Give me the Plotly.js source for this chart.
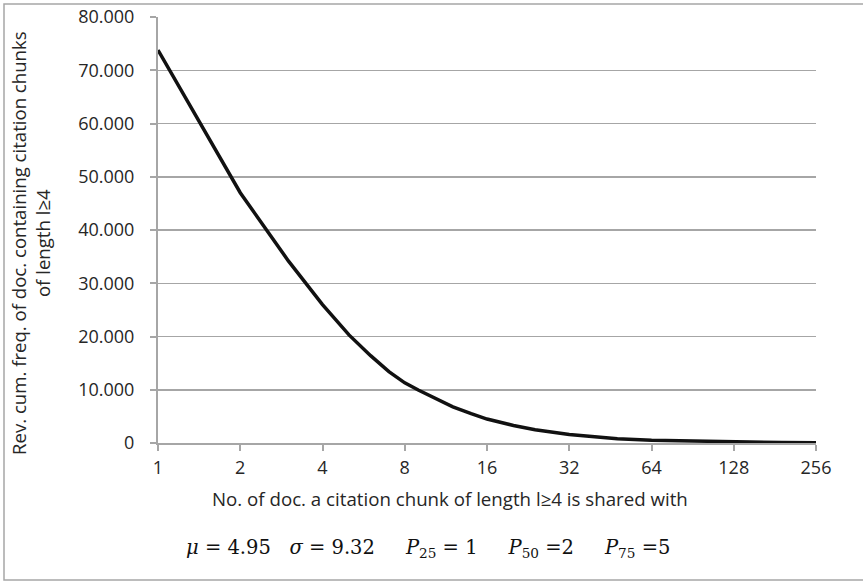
<!DOCTYPE html>
<html>
<head>
<meta charset="utf-8">
<script src="https://cdn.plot.ly/plotly-3.0.1.min.js"></script>
<style>html,body{margin:0;padding:0;background:#fff;}#chart{width:863px;height:581px;}</style>
</head>
<body>
<div id="chart"></div>
<script>
// Number of documents a citation chunk is shared with
const sharedWith = [1, 2, 3, 4, 5, 6, 7, 8, 9, 10, 11, 12, 14, 16, 20, 24, 32, 40, 48, 64, 96, 128, 192, 256];
// Reverse cumulative frequency of documents
const revCumFreq = [73800, 47000, 34200, 26000, 20300, 16400, 13400, 11300, 9900, 8700, 7700, 6800, 5500, 4500, 3300, 2500, 1600, 1100, 800, 500, 300, 200, 100, 50];
const xTicks = [1, 2, 4, 8, 16, 32, 64, 128, 256];
const yTicks = [0, 10000, 20000, 30000, 40000, 50000, 60000, 70000, 80000];

const W = 863, H = 581, L = 158, R = 816, T = 17, B = 443;
const px = x => (x - L) / (R - L);
const py = y => (B - y) / (B - T);

const axisColor = '#a6a6a6';
const font = 'Open Sans, sans-serif';

const trace = {
  x: sharedWith, y: revCumFreq, type: 'scatter', mode: 'lines',
  line: {color: '#111111', width: 3.5, shape: 'linear'},
  hoverinfo: 'x+y'
};

const layout = {
  width: W, height: H,
  margin: {l: L, r: W - R, t: T, b: H - B, pad: 0},
  paper_bgcolor: '#ffffff', plot_bgcolor: '#ffffff',
  separators: ',.',
  showlegend: false,
  font: {family: font, size: 18, color: '#262626'},
  xaxis: {
    type: 'log', range: [0, Math.log10(256)],
    tickmode: 'array', tickvals: xTicks, ticktext: xTicks.map(String),
    showgrid: false, zeroline: false,
    showline: true, linecolor: axisColor, linewidth: 2,
    ticks: 'outside', ticklen: 6, tickwidth: 2, tickcolor: axisColor,
    tickfont: {family: font, size: 18, color: '#262626'},
    ticklabelstandoff: 1
  },
  yaxis: {
    range: [0, 80000],
    tickmode: 'array', tickvals: yTicks,
    tickformat: ',d',
    showgrid: true, gridcolor: axisColor, gridwidth: 1.5,
    zeroline: false,
    showline: true, linecolor: axisColor, linewidth: 2,
    ticks: 'outside', ticklen: 6, tickwidth: 2, tickcolor: axisColor,
    tickfont: {family: font, size: 18, color: '#262626'},
    ticklabelstandoff: 12
  },
  annotations: [
    {
      text: 'No. of doc. a citation chunk of length l≥4 is shared with',
      xref: 'paper', yref: 'paper', x: px(450), y: py(498),
      xanchor: 'center', yanchor: 'middle', showarrow: false,
      font: {family: font, size: 18.7, color: '#262626'}
    },
    {
      text: 'Rev. cum. freq. of doc. containing citation chunks<br>of length l≥4',
      xref: 'paper', yref: 'paper', x: px(30), y: py(243),
      xanchor: 'center', yanchor: 'middle', showarrow: false, textangle: -90,
      font: {family: font, size: 18.6, color: '#262626'}
    },
    {
      text: '<i>μ</i> = 4.95   <i>σ</i> = 9.32     <i>P</i><sub>25</sub> = 1     <i>P</i><sub>50</sub> =2     <i>P</i><sub>75</sub> =5',
      xref: 'paper', yref: 'paper', x: px(428), y: py(548),
      xanchor: 'center', yanchor: 'middle', showarrow: false,
      font: {family: 'DejaVu Serif, Liberation Serif, serif', size: 19.5, color: '#111111'}
    }
  ],
  shapes: [
    {type: 'rect', xref: 'paper', yref: 'paper',
     x0: px(4), x1: px(880), y0: py(580), y1: py(4),
     line: {color: '#a6a6a6', width: 1.5}, fillcolor: 'rgba(0,0,0,0)', layer: 'below'}
  ]
};

Plotly.newPlot('chart', [trace], layout, {displayModeBar: false, staticPlot: true});
</script>
</body>
</html>
